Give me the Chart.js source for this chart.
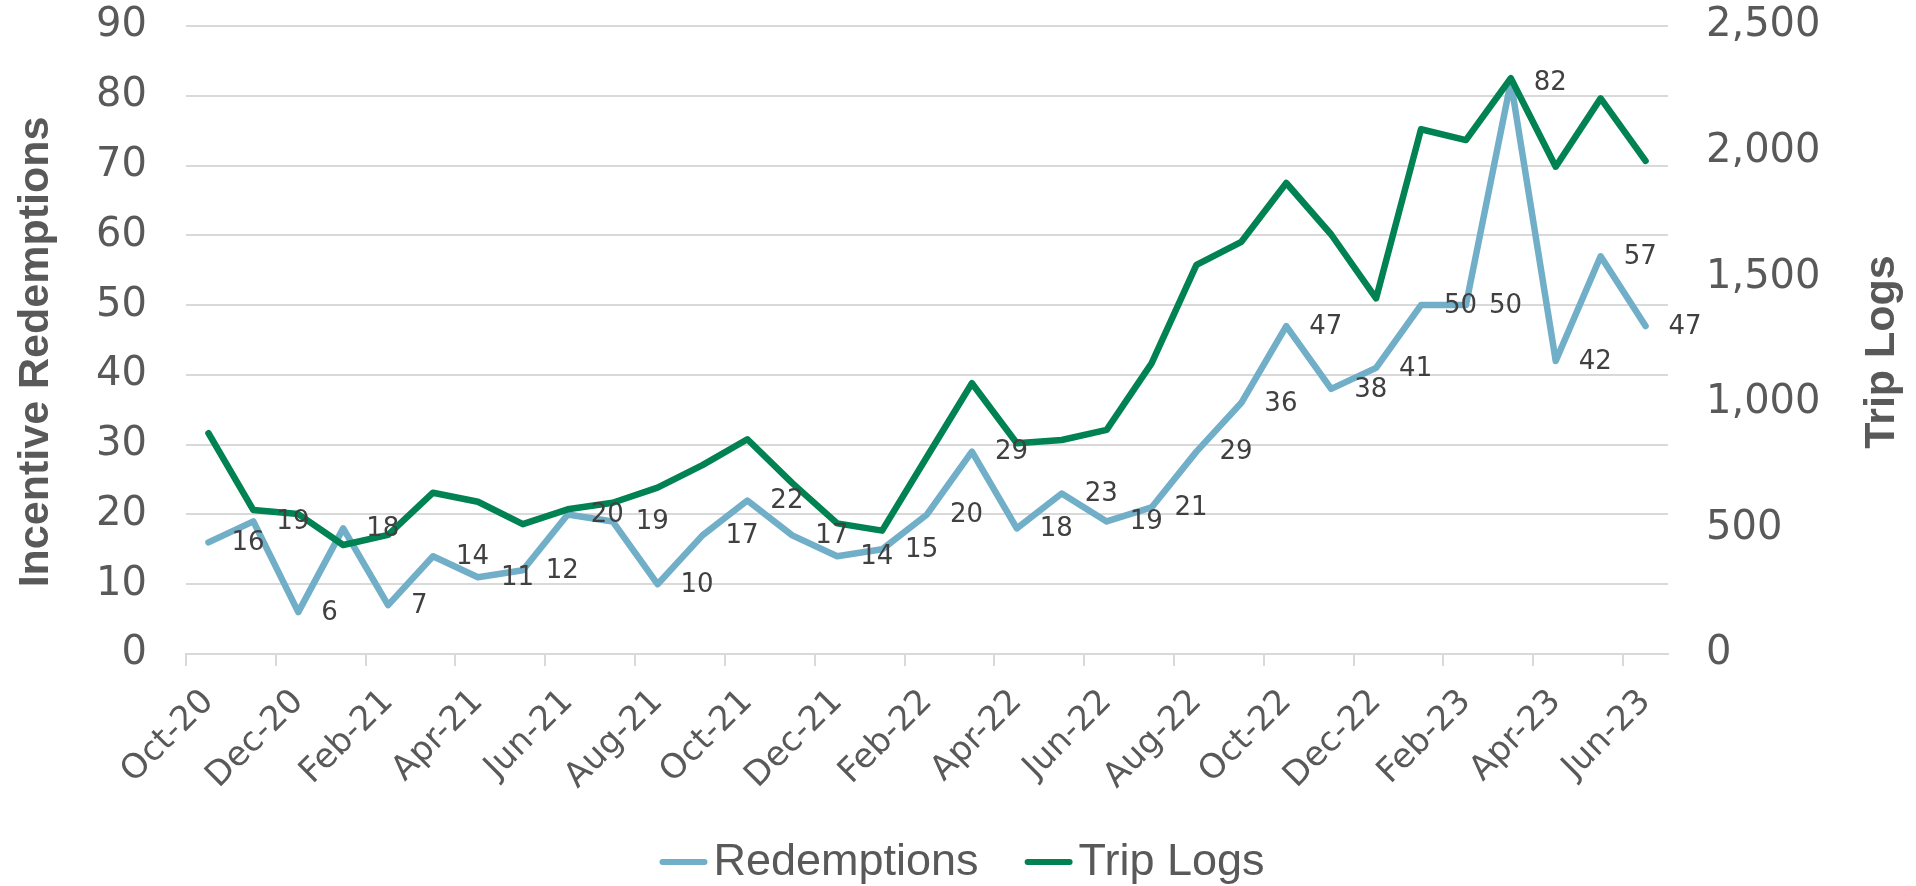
<!DOCTYPE html>
<html>
<head>
<meta charset="utf-8">
<script src="https://cdn.jsdelivr.net/npm/chart.js@4.4.1/dist/chart.umd.min.js"></script>
<style>
  html, body { margin: 0; padding: 0; background: #ffffff; }
  #wrap { width: 1916px; height: 886px; position: relative; }
  canvas { display: block; }
</style>
</head>
<body>
<div id="wrap"><canvas id="c" width="1916" height="886"></canvas></div>
<script>
const months = ['Oct-20','Nov-20','Dec-20','Jan-21','Feb-21','Mar-21','Apr-21','May-21','Jun-21','Jul-21','Aug-21','Sep-21',
  'Oct-21','Nov-21','Dec-21','Jan-22','Feb-22','Mar-22','Apr-22','May-22','Jun-22','Jul-22','Aug-22','Sep-22',
  'Oct-22','Nov-22','Dec-22','Jan-23','Feb-23','Mar-23','Apr-23','May-23','Jun-23'];
const redemptions = [16,19,6,18,7,14,11,12,20,19,10,17,22,17,14,15,20,29,18,23,19,21,29,36,47,38,41,50,50,82,42,57,47];
const tripLogs = [879,573,557,434,474,642,606,517,576,602,662,752,855,680,520,491,785,1078,839,852,892,1157,1549,1641,1875,1670,1416,2089,2046,2292,1940,2212,1963];
const leftTicks = [0,10,20,30,40,50,60,70,80,90];
const rightTicks = [0,500,1000,1500,2000,2500];
const leftTitle = 'Incentive Redemptions';
const rightTitle = 'Trip Logs';

const GRAY = '#595959';
const GRID = '#d9d9d9';
const BLUE = '#71afc9';
const GREEN = '#008252';
const NUMFONT = '"DejaVu Sans", sans-serif';
const TXTFONT = '"Liberation Sans", Arial, sans-serif';

const dataLabels = {
  id: 'dataLabels',
  afterDatasetsDraw(chart) {
    const ctx = chart.ctx;
    const meta = chart.getDatasetMeta(0);
    ctx.save();
    ctx.font = '26px ' + NUMFONT;
    ctx.fillStyle = '#404040';
    ctx.textAlign = 'left';
    ctx.textBaseline = 'middle';
    meta.data.forEach((pt, i) => {
      ctx.fillText(String(chart.data.datasets[0].data[i]), pt.x + 23, pt.y + 1);
    });
    ctx.restore();
  }
};

function drawVerticalTitle(ctx, text, x, y) {
  ctx.save();
  ctx.font = 'bold 43px ' + TXTFONT;
  ctx.fillStyle = GRAY;
  ctx.textAlign = 'center';
  ctx.textBaseline = 'middle';
  ctx.translate(x, y);
  ctx.rotate(-Math.PI / 2);
  ctx.fillText(text, 0, 0);
  ctx.restore();
}

const extras = {
  id: 'extras',
  afterDraw(chart) {
    const ctx = chart.ctx;
    const area = chart.chartArea;
    const midY = (area.top + area.bottom) / 2 + 12;
    drawVerticalTitle(ctx, leftTitle, 36, midY);
    drawVerticalTitle(ctx, rightTitle, 1882, midY);

    ctx.save();
    ctx.font = '45px ' + TXTFONT;
    const lineLen = 48, gap = 6, spacing = 46;
    const items = chart.data.datasets.map(d => ({label: d.label, color: d.borderColor, w: ctx.measureText(d.label).width}));
    let total = 0;
    items.forEach((it, i) => { total += lineLen + gap + it.w + (i ? spacing : 0); });
    let x = (chart.width - total) / 2 + 4;
    const y = 862;
    items.forEach((it, i) => {
      if (i) x += spacing;
      ctx.strokeStyle = it.color;
      ctx.lineWidth = 6;
      ctx.lineCap = 'round';
      ctx.beginPath();
      ctx.moveTo(x + 3, y);
      ctx.lineTo(x + lineLen - 3, y);
      ctx.stroke();
      x += lineLen + gap;
      ctx.fillStyle = GRAY;
      ctx.textAlign = 'left';
      ctx.textBaseline = 'middle';
      ctx.fillText(it.label, x, y + 1);
      x += it.w;
    });
    ctx.restore();
  }
};

new Chart(document.getElementById('c'), {
  type: 'line',
  data: {
    labels: months,
    datasets: [
      { label: 'Redemptions', data: redemptions, yAxisID: 'y', borderColor: BLUE, backgroundColor: BLUE,
        borderWidth: 6.5, pointRadius: 0, tension: 0, order: 1, borderJoinStyle: 'round', borderCapStyle: 'round' },
      { label: 'Trip Logs', data: tripLogs, yAxisID: 'y2', borderColor: GREEN, backgroundColor: GREEN,
        borderWidth: 6.5, pointRadius: 0, tension: 0, order: 0, borderJoinStyle: 'round', borderCapStyle: 'round' }
    ]
  },
  options: {
    responsive: false,
    devicePixelRatio: 1,
    animation: false,
    layout: { padding: { top: 26, left: 0, right: 0, bottom: 0 } },
    plugins: { legend: { display: false }, tooltip: { enabled: false }, title: { display: false } },
    scales: {
      x: {
        type: 'category',
        offset: true,
        grid: {
          offset: true,
          drawOnChartArea: false,
          drawTicks: true,
          tickLength: 12,
          lineWidth: 2,
          tickColor: (c) => (c.index !== undefined && c.index % 2 === 0) ? GRID : 'rgba(0,0,0,0)',
          color: (c) => (c.index !== undefined && c.index % 2 === 0) ? GRID : 'rgba(0,0,0,0)'
        },
        border: { display: true, color: GRID, width: 2 },
        ticks: {
          autoSkip: false,
          maxRotation: 45,
          minRotation: 45,
          padding: 16,
          color: GRAY,
          font: { family: NUMFONT, size: 34 },
          callback: function(v, i) { return i % 2 === 0 ? this.getLabelForValue(v) : ''; }
        },
        afterFit: (s) => { s.height = 886 - 654; }
      },
      y: {
        position: 'left',
        min: 0, max: 90,
        afterBuildTicks: (s) => { s.ticks = leftTicks.map(v => ({value: v})); },
        grid: { color: GRID, lineWidth: 2, drawTicks: false },
        border: { display: false },
        ticks: { padding: 39, color: GRAY, font: { family: NUMFONT, size: 40 } },
        title: { display: false },
        afterFit: (s) => { s.width = 186; s.paddingTop = 0; s.paddingBottom = 0; }
      },
      y2: {
        position: 'right',
        min: 0, max: 2500,
        afterBuildTicks: (s) => { s.ticks = rightTicks.map(v => ({value: v})); },
        grid: { display: false, drawTicks: false, drawOnChartArea: false },
        border: { display: false },
        ticks: { padding: 38, color: GRAY, font: { family: NUMFONT, size: 40 },
                 callback: (v) => Number(v).toLocaleString('en-US') },
        afterFit: (s) => { s.width = 1916 - 1668; s.paddingTop = 0; s.paddingBottom = 0; }
      }
    }
  },
  plugins: [dataLabels, extras]
});
</script>
</body>
</html>
